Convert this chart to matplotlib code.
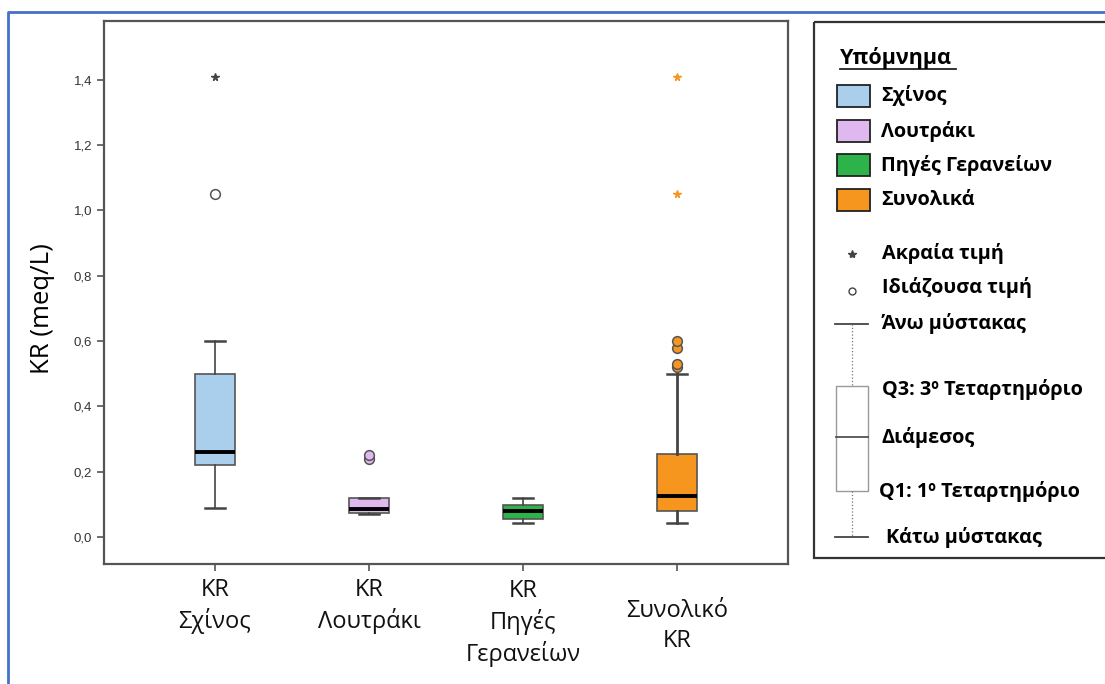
import matplotlib
matplotlib.use('Agg')
import matplotlib.pyplot as plt
from matplotlib.patches import Rectangle

# Δεδομένα (εκτίμηση από την εικόνα)
categories = ['KR\nΣχίνος', 'KR\nΛουτράκι', 'KR\nΠηγές\nΓερανείων', 'Συνολικό\nKR']
whislo = [0.09, 0.07, 0.043, 0.043]
q1 = [0.22, 0.072, 0.055, 0.08]
med = [0.26, 0.086, 0.078, 0.125]
q3 = [0.50, 0.12, 0.097, 0.255]
whishi = [0.60, 0.12, 0.12, 0.50]
outliers = [[1.05], [0.24, 0.25], [], [0.52, 0.53, 0.58, 0.60]]
extremes = [[1.41], [], [], [1.05, 1.41]]
colors = ['#aacfed', '#dfb8f0', '#2eb34b', '#f7961e']
outlier_fill = ['white', '#dfb8f0', '#2eb34b', '#f7961e']
extreme_color = ['#444444', '#444444', '#444444', '#f7961e']
legend_labels = ['Σχίνος', 'Λουτράκι', 'Πηγές Γερανείων', 'Συνολικά']

plt.rcParams['font.family'] = ['Open Sans', 'DejaVu Sans']

W, H = 1105, 684
fig = plt.figure(figsize=(W / 100, H / 100), dpi=100)

# Βοηθητικοί άξονες σε pixel για πλαίσια και υπόμνημα
bg = fig.add_axes([0, 0, 1, 1])
bg.set_xlim(0, W)
bg.set_ylim(H, 0)
bg.axis('off')

# μπλε περίγραμμα
bg.plot([8, 8, W + 5], [H + 5, 12, 12], color='#4472c4', lw=2)

ax = fig.add_axes([104 / W, 1 - 564 / H, (788 - 104) / W, (564 - 21) / H])
pos = list(range(1, len(categories) + 1))

stats = []
for i in range(len(categories)):
    stats.append({'med': med[i], 'q1': q1[i], 'q3': q3[i],
                  'whislo': whislo[i], 'whishi': whishi[i], 'fliers': []})

bp = ax.bxp(stats, positions=pos, widths=0.26, patch_artist=True, showfliers=False,
            capwidths=0.13,
            boxprops=dict(edgecolor='#555555', linewidth=1.2),
            medianprops=dict(color='black', linewidth=2.8),
            whiskerprops=dict(color='#444444', linewidth=1.2),
            capprops=dict(color='#444444', linewidth=1.8))
for patch, c in zip(bp['boxes'], colors):
    patch.set_facecolor(c)
# ο συνολικός μύστακας είναι πιο έντονος
bp['whiskers'][6].set_linewidth(2)
bp['whiskers'][7].set_linewidth(2)

for i, p in enumerate(pos):
    if outliers[i]:
        ax.plot([p] * len(outliers[i]), outliers[i], 'o', ms=7,
                mfc=outlier_fill[i], mec='#555555', mew=1.1, zorder=4)
    if extremes[i]:
        ax.plot([p] * len(extremes[i]), extremes[i], '*', ms=5.5,
                color=extreme_color[i], mec=extreme_color[i], zorder=4)

ax.set_xlim(0.28, 4.72)
ax.set_ylim(-0.083, 1.58)
yt = [0.0, 0.2, 0.4, 0.6, 0.8, 1.0, 1.2, 1.4]
ax.set_yticks(yt)
ax.set_yticklabels([f'{v:.1f}'.replace('.', ',') for v in yt],
                   family=['Liberation Sans Narrow', 'Liberation Sans'], fontsize=9.5, color='#333333')
ax.set_xticks(pos)
ax.set_xticklabels([])
ax.tick_params(axis='both', direction='out', length=5, width=1.2, color='#555555')
for s in ax.spines.values():
    s.set_color('#555555')
    s.set_linewidth(1.6)
ax.set_ylabel('KR (meq/L)', fontsize=18.5)
ax.yaxis.set_label_coords(-0.09, 0.47)
ax.yaxis.label.set_va('center')
ax.yaxis.set_label_coords(-0.09, 0.47)

# ετικέτες κατηγοριών
tr = ax.get_xaxis_transform()
label_y = [-0.077, -0.077, -0.109, -0.114]
for p, lab, yc in zip(pos, categories, label_y):
    ax.text(p, yc, lab, transform=tr, ha='center', va='center', fontsize=17,
            linespacing=1.3, color='#111111')

# ---- Υπόμνημα ----
bg.add_patch(Rectangle((814, 22), W, 558 - 22, fill=False, edgecolor='#333333', lw=1.6))
bg.text(840, 58, 'Υπόμνημα', fontsize=15.5, fontweight='bold', va='center', ha='left')
bg.plot([840, 956], [69, 69], color='#222222', lw=1.3)

fs = 14.3
leg_y = [96, 131, 165, 200]
for y, c, lab in zip(leg_y, colors, legend_labels):
    bg.add_patch(Rectangle((837, y - 11), 33, 22, facecolor=c, edgecolor='#222222', lw=1.3))
    bg.text(881, y, lab, fontsize=fs, fontweight='bold', va='center', ha='left')

bg.plot([852], [254], '*', ms=6, color='#444444')
bg.text(882, 253, 'Ακραία τιμή', fontsize=fs, fontweight='bold', va='center')
bg.plot([852], [291], 'o', ms=5, mfc='white', mec='#444444', mew=1)
bg.text(882, 288, 'Ιδιάζουσα τιμή', fontsize=fs, fontweight='bold', va='center')

# σχηματικό θηκόγραμμα
bg.plot([835, 868], [324, 324], color='#444444', lw=1.3)
bg.plot([852, 852], [324, 386], color='#777777', lw=0.9, ls=':')
bg.add_patch(Rectangle((836, 386), 32, 105, facecolor='white', edgecolor='#999999', lw=1))
bg.plot([836, 868], [437, 437], color='#444444', lw=1.2)
bg.plot([852, 852], [491, 537], color='#777777', lw=0.9, ls=':')
bg.plot([835, 868], [537, 537], color='#444444', lw=1.3)
bg.text(882, 323, 'Άνω μύστακας', fontsize=fs, fontweight='bold', va='center')
bg.text(882, 390, 'Q3: 3º Τεταρτημόριο', fontsize=fs, fontweight='bold', va='center')
bg.text(882, 438, 'Διάμεσος', fontsize=fs, fontweight='bold', va='center')
bg.text(879, 491, 'Q1: 1º Τεταρτημόριο', fontsize=fs, fontweight='bold', va='center')
bg.text(886, 537, 'Κάτω μύστακας', fontsize=fs, fontweight='bold', va='center')

fig.savefig('out.png', dpi=100)
